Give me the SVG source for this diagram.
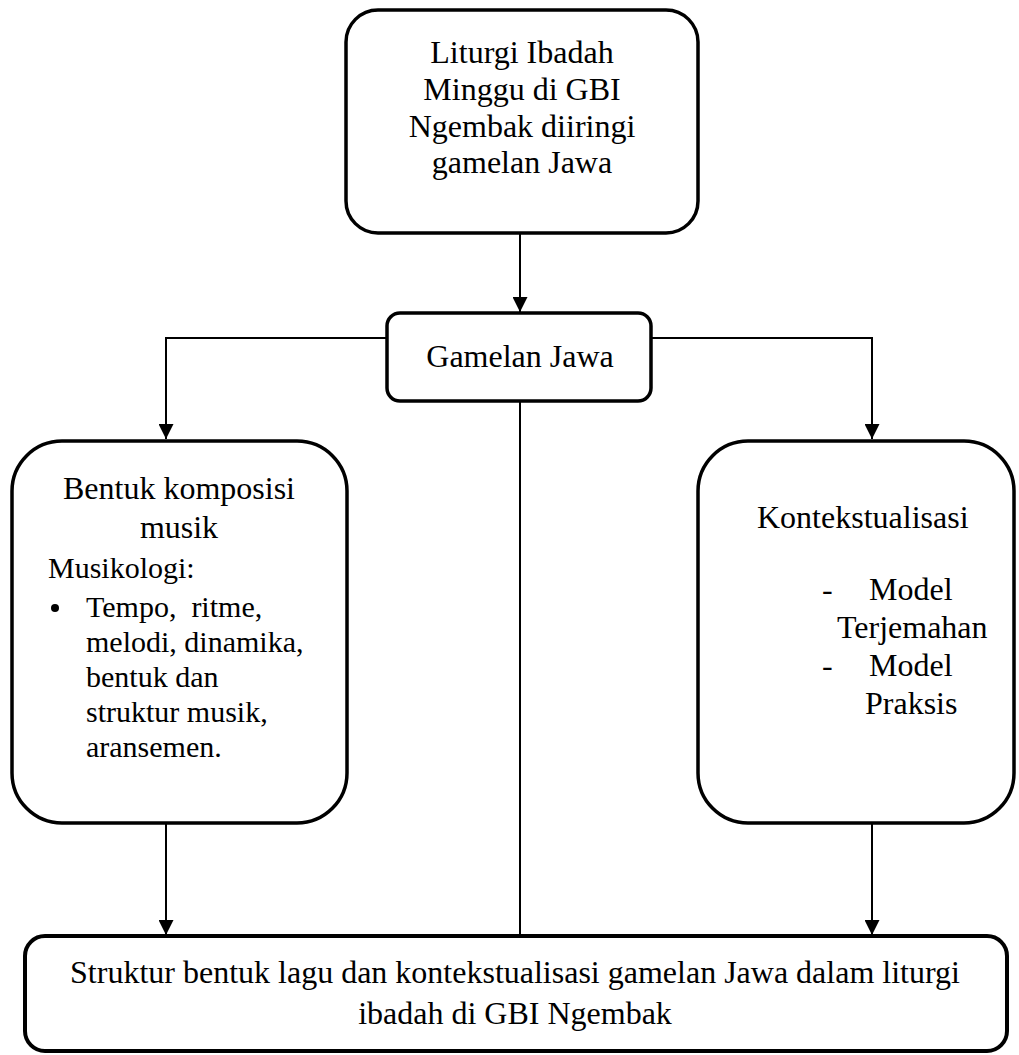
<svg xmlns="http://www.w3.org/2000/svg" width="1019" height="1055" viewBox="0 0 1019 1055">
<style>
.box{fill:#fff;stroke:#000;stroke-width:3.5}
.t{font-family:"Liberation Serif","Times New Roman",serif;font-size:32px;fill:#000}
.s{font-size:30px}
.c{text-anchor:middle}
.ln{fill:none;stroke:#000;stroke-width:2}
</style>
<defs>
<marker id="ah" markerWidth="15" markerHeight="15" refX="15" refY="7.5" orient="auto" markerUnits="userSpaceOnUse">
<path d="M0,0 L15,7.5 L0,15 Z" fill="#000"/>
</marker>
</defs>
<rect width="1019" height="1055" fill="#fff"/>
<g id="connectors">
<path class="ln" d="M520,233 V312" marker-end="url(#ah)"/>
<path class="ln" d="M387,338 H166 V439" marker-end="url(#ah)"/>
<path class="ln" d="M651,338 H872 V439" marker-end="url(#ah)"/>
<path class="ln" d="M520,401 V936"/>
<path class="ln" d="M166,823 V935" marker-end="url(#ah)"/>
<path class="ln" d="M872,823 V935" marker-end="url(#ah)"/>
</g>
<g id="node-liturgi">
<rect class="box" x="346" y="10" width="352" height="223" rx="32"/>
<text class="t c" x="522" y="63">Liturgi Ibadah</text>
<text class="t c" x="522" y="100">Minggu di GBI</text>
<text class="t c" x="522" y="137">Ngembak diiringi</text>
<text class="t c" x="522" y="173">gamelan Jawa</text>
</g>
<g id="node-gamelan">
<rect class="box" x="387" y="313" width="264" height="88" rx="13"/>
<text class="t c" x="520" y="367">Gamelan Jawa</text>
</g>
<g id="node-bentuk">
<rect class="box" x="12" y="441" width="335" height="382" rx="50"/>
<text class="t c" x="179" y="499">Bentuk komposisi</text>
<text class="t c" x="179" y="538">musik</text>
<text class="t s" x="48" y="578">Musikologi:</text>
<circle cx="55" cy="608" r="4"/>
<text class="t s" x="86" y="617" xml:space="preserve" style="white-space:pre">Tempo,  ritme,</text>
<text class="t s" x="86" y="652">melodi, dinamika,</text>
<text class="t s" x="86" y="687">bentuk dan</text>
<text class="t s" x="86" y="722">struktur musik,</text>
<text class="t s" x="86" y="757">aransemen.</text>
</g>
<g id="node-kontekstualisasi">
<rect class="box" x="698" y="441" width="316" height="382" rx="50"/>
<text class="t" x="757" y="528">Kontekstualisasi</text>
<text class="t" x="822" y="600">-</text>
<text class="t" x="869" y="600">Model</text>
<text class="t" x="837" y="638">Terjemahan</text>
<text class="t" x="822" y="676">-</text>
<text class="t" x="869" y="676">Model</text>
<text class="t" x="865" y="714">Praksis</text>
</g>
<g id="node-struktur">
<rect class="box" x="25" y="936" width="982" height="115" rx="20" style="stroke-width:4"/>
<text class="t c" x="515" y="983">Struktur bentuk lagu dan kontekstualisasi gamelan Jawa dalam liturgi</text>
<text class="t c" x="515" y="1024">ibadah di GBI Ngembak</text>
</g>
</svg>
